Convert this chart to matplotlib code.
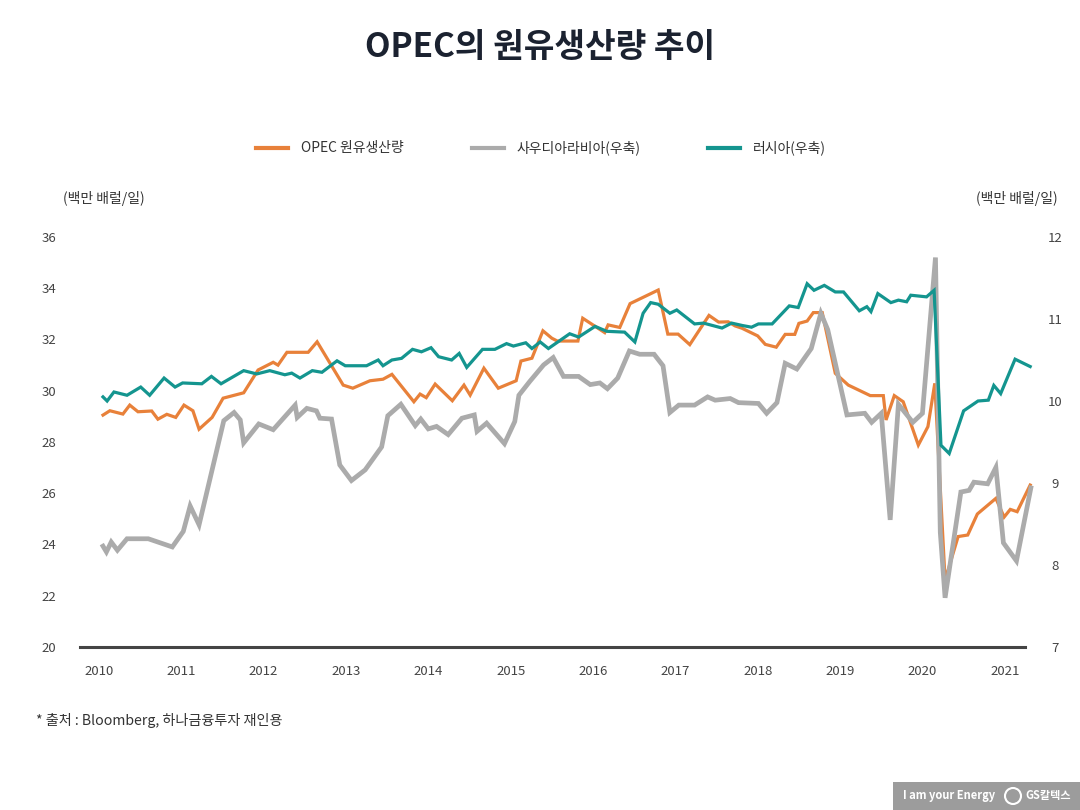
import matplotlib
matplotlib.use("Agg")
import matplotlib.pyplot as plt
from matplotlib.patches import Rectangle, Ellipse

plt.rcParams['font.family'] = ['Noto Sans CJK KR', 'DejaVu Sans']

# ---- data (x = months since Jan 2010) ----
years = list(range(2010, 2022))

opec_m = [0.0,1.0,2.9,3.9,5.1,7.1,8.0,9.3,10.6,11.8,13.1,14.0,15.9,17.5,20.5,22.6,24.8,25.5,26.8,29.9,
          31.2,35.0,36.4,38.9,40.8,42.1,45.3,46.2,47.1,48.4,50.9,52.6,53.5,55.5,57.6,60.2,60.9,62.5,64.1,65.4,
          66.2,69.2,69.9,73.1,73.6,75.3,76.8,80.9,82.3,83.8,85.5,88.3,89.7,91.1,92.1,93.1,95.4,96.5,98.1,99.4,
          100.8,101.4,102.6,103.5,104.8,106.7,108.6,111.8,113.7,114.1,115.3,116.6,118.8,120.2,121.2,122.7,124.6,126.0,127.4,130.1,
          131.3,132.2,133.2,135.1]
opec_v = [29.05,29.22,29.09,29.44,29.18,29.21,28.89,29.08,28.96,29.44,29.22,28.50,28.96,29.71,29.92,30.81,31.11,31.00,31.50,31.50,
          31.91,30.22,30.10,30.39,30.45,30.64,29.57,29.87,29.73,30.26,29.61,30.22,29.83,30.88,30.10,30.39,31.16,31.27,32.34,32.05,
          31.94,31.94,32.83,32.27,32.57,32.47,33.40,33.93,32.21,32.21,31.80,32.94,32.68,32.69,32.53,32.44,32.14,31.81,31.70,32.20,
          32.20,32.63,32.72,33.05,33.05,30.68,30.22,29.81,29.81,28.86,29.81,29.57,27.88,28.60,30.29,22.61,24.31,24.37,25.19,25.80,
          25.07,25.37,25.28,26.32]

saudi_m = [0,0.5,1.2,2.1,3.5,6.6,10.1,11.7,12.7,14.0,17.6,19.1,20.0,20.5,22.7,24.8,28.0,28.3,29.7,31.1,
           31.6,33.3,34.5,36.2,38.2,40.6,41.5,43.4,45.5,46.3,47.4,48.6,50.3,52.3,54.1,54.5,55.9,58.5,60.0,60.6,
           62.2,64.2,65.6,67.1,69.3,71.0,72.4,73.5,75.0,76.7,78.2,80.3,81.6,82.6,83.9,86.2,88.1,89.2,91.4,92.6,
           95.5,96.7,98.2,99.4,101.1,103.2,104.6,105.6,108.4,111.0,112.0,113.4,114.7,115.9,118.0,119.4,121.3,122.0,122.7,125.0,
           126.2,126.9,128.9,130.1,131.2,133.1,135.2]
saudi_v = [8.23,8.16,8.28,8.18,8.32,8.32,8.22,8.41,8.72,8.49,9.76,9.86,9.77,9.49,9.72,9.65,9.95,9.80,9.91,9.88,
           9.79,9.78,9.22,9.03,9.16,9.44,9.82,9.96,9.70,9.78,9.66,9.69,9.59,9.79,9.83,9.63,9.73,9.48,9.75,10.07,
           10.24,10.44,10.53,10.30,10.30,10.20,10.22,10.15,10.28,10.61,10.57,10.57,10.43,9.86,9.95,9.95,10.05,10.01,10.03,9.98,
           9.97,9.85,9.98,10.46,10.39,10.64,11.07,10.87,9.83,9.85,9.74,9.85,8.55,9.96,9.74,9.85,11.75,8.40,7.60,8.89,
           8.91,9.01,8.99,9.19,8.27,8.05,8.94]

russia_m = [0,0.6,1.6,3.5,5.5,6.8,8.9,10.5,11.6,14.4,15.8,17.2,20.5,22.4,24.3,26.5,27.5,28.7,30.5,31.9,
            34.1,35.3,38.4,40.1,40.8,42.1,43.5,45.1,46.4,47.8,48.9,50.8,51.9,53.0,55.3,57.1,58.8,59.8,61.6,62.5,
            63.7,64.9,68.0,69.3,71.7,73.4,76.0,77.5,78.7,79.8,80.9,82.6,83.6,86.2,87.5,90.2,91.6,93.2,94.5,95.5,
            97.5,100.0,101.3,102.6,103.6,105.1,106.7,107.9,110.2,111.3,111.9,112.9,114.8,115.9,116.5,117.1,117.7,120.0,121.1,122.1,
            123.3,125.4,127.5,129.0,129.8,130.8,132.9,135.1]
russia_v = [10.05,10.00,10.11,10.07,10.17,10.07,10.28,10.17,10.22,10.21,10.30,10.21,10.37,10.33,10.37,10.32,10.34,10.28,10.37,10.35,
            10.49,10.43,10.43,10.50,10.43,10.50,10.52,10.63,10.60,10.65,10.54,10.50,10.58,10.41,10.63,10.63,10.70,10.67,10.71,10.64,
            10.72,10.64,10.82,10.78,10.91,10.85,10.84,10.72,11.07,11.20,11.18,11.07,11.11,10.94,10.95,10.89,10.95,10.92,10.90,10.94,
            10.94,11.16,11.14,11.43,11.35,11.41,11.33,11.33,11.10,11.15,11.09,11.31,11.20,11.23,11.22,11.21,11.29,11.27,11.35,9.46,
            9.36,9.88,10.00,10.01,10.19,10.09,10.51,10.42]

left_ticks = [20, 22, 24, 26, 28, 30, 32, 34, 36]
right_ticks = [7, 8, 9, 10, 11, 12]

labels = ['OPEC 원유생산량', '사우디아라비아(우축)', '러시아(우축)']
colors = ['#E8813A', '#ABABAB', '#14958F']

# ---- figure ----
W, H = 1080, 810
fig = plt.figure(figsize=(W / 100, H / 100), dpi=100)
fig.patch.set_facecolor('white')

ax_l, ax_r, ax_t, ax_b = 80, 1040, 237, 647
ax = fig.add_axes([ax_l / W, 1 - ax_b / H, (ax_r - ax_l) / W, (ax_b - ax_t) / H])
ax2 = ax.twinx()

ax.set_xlim(-3.35, 136.53)
ax.set_ylim(20, 36)
ax2.set_ylim(7, 12)

l1, = ax.plot(opec_m, opec_v, color=colors[0], lw=2.3, solid_joinstyle='miter', zorder=2)
l2, = ax2.plot(saudi_m, saudi_v, color=colors[1], lw=3.4, solid_joinstyle='miter', zorder=2)
l3, = ax2.plot(russia_m, russia_v, color=colors[2], lw=2.3, solid_joinstyle='miter', zorder=3)

for a in (ax, ax2):
    for s in a.spines.values():
        s.set_visible(False)
    a.patch.set_visible(False)

ax.axhline(20, xmin=0, xmax=(1025 - ax_l) / (ax_r - ax_l), color='#444444', lw=2.2, zorder=5, clip_on=False)

tick_color = '#444444'
ax.set_yticks(left_ticks)
ax.set_yticklabels([str(t) for t in left_ticks])
ax.tick_params(axis='y', length=0, pad=22.5, labelsize=9.5, labelcolor=tick_color)
for t in ax.get_yticklabels():
    t.set_ha('center')

ax2.set_yticks(right_ticks)
ax2.set_yticklabels([str(t) for t in right_ticks])
ax2.tick_params(axis='y', length=0, pad=11, labelsize=9.5, labelcolor=tick_color)
for t in ax2.get_yticklabels():
    t.set_ha('center')

ax.set_xticks([12 * (y - 2010) - 0.6 for y in years])
ax.set_xticklabels([str(y) for y in years])
ax.tick_params(axis='x', length=0, pad=13, labelsize=9.5, labelcolor=tick_color)

# title
fig.text(0.5, 1 - 47 / H, 'OPEC의 원유생산량 추이', ha='center', va='center',
         fontsize=24, fontweight='bold', color='#1B2230')

# legend
leg = fig.legend([l1, l2, l3], labels, loc='center', bbox_to_anchor=(541 / W, 1 - 148 / H),
                 ncol=3, frameon=False, fontsize=10, handlelength=2.3, handletextpad=0.9,
                 columnspacing=4.9)
for t in leg.get_texts():
    t.set_color('#333333')
for h in leg.legend_handles:
    h.set_linewidth(3.0)

# unit labels
fig.text(104 / W, 1 - 198 / H, '(백만 배럴/일)', ha='center', va='center', fontsize=10, color='#333333')
fig.text(1017 / W, 1 - 198 / H, '(백만 배럴/일)', ha='center', va='center', fontsize=10, color='#333333')

# footnote
fig.text(36 / W, 1 - 720 / H, '* 출처 : Bloomberg, 하나금융투자 재인용', ha='left', va='center',
         fontsize=10.2, color='#333333')

# logo box
fig.patches.append(Rectangle((893 / W, 0), (W - 893) / W, 28 / H, transform=fig.transFigure,
                             facecolor='#9C9C9C', edgecolor='none'))
fig.text(949 / W, 1 - 796 / H, 'I am your Energy', ha='center', va='center', fontsize=8,
         fontweight='bold', color='white')
fig.patches.append(Ellipse((1013 / W, 1 - 796 / H), 16 / W, 16 / H, transform=fig.transFigure,
                           facecolor='none', edgecolor='white', lw=1.5))
fig.text(1048 / W, 1 - 796 / H, 'GS칼텍스', ha='center', va='center', fontsize=8,
         fontweight='bold', color='white')

fig.savefig('out.png', dpi=100, facecolor='white')
